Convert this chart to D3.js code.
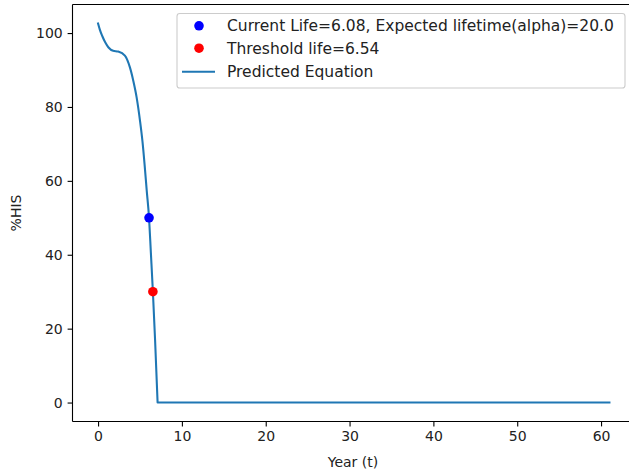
<!DOCTYPE html>
<html>
<head>
<meta charset="utf-8">
<script src="https://cdn.jsdelivr.net/npm/d3@7"></script>
<style>
  html, body { margin: 0; padding: 0; background: #fff; }
  svg { display: block; font-family: "DejaVu Sans", sans-serif; }
</style>
</head>
<body>
<svg id="chart" width="629" height="474"></svg>
<script>
// ---- data ----
const curveT = [0, 0.2, 0.5, 0.85, 1.25, 1.8, 2.4, 3.2, 3.8, 4.2, 4.6, 5.0, 5.3, 5.55, 5.8, 6.08, 6.3, 6.54, 6.8, 7.1];
const curveV = [102.6, 101.0, 99.2, 97.5, 96.1, 95.2, 95.0, 93.9, 90.7, 87.1, 82.6, 76.3, 70.6, 64.4, 57.5, 50.0, 40.5, 30.0, 17.0, 0];
const flatT = [7.1, 61];
const flatV = [0, 0];
const currentPoint = [6.08, 50];
const thresholdPoint = [6.54, 30];
const xTicks = [0, 10, 20, 30, 40, 50, 60];
const yTicks = [0, 20, 40, 60, 80, 100];
const legendLabels = ["Current Life=6.08, Expected lifetime(alpha)=20.0", "Threshold life=6.54", "Predicted Equation"];
const xLabel = "Year (t)";
const yLabel = "%HIS";

// ---- layout ----
const svg = d3.select("#chart");
const pL = 72.5, pR = 635, pT = 4.5, pB = 421.5;
const xs = d3.scaleLinear().domain([-3.05, 64.05]).range([pL, pR]);
const ys = d3.scaleLinear().domain([-5.13, 107.73]).range([pB, pT]);
const blue = "#1f77b4";
const fs = 14;
const lfs = 15.5;

// line
const lineGen = d3.line().x(d => xs(d[0])).y(d => ys(d[1]));
const curvePts = curveT.map((t, i) => [t, curveV[i]]);
const flatPts = flatT.map((t, i) => [t, flatV[i]]);
const p1 = d3.line().x(d => xs(d[0])).y(d => ys(d[1])).curve(d3.curveMonotoneX)(curvePts);
const p2 = lineGen(flatPts);
svg.append("path").attr("d", p1 + "L" + p2.slice(1))
  .attr("fill", "none").attr("stroke", blue).attr("stroke-width", 2.08)
  .attr("stroke-linejoin", "round").attr("stroke-linecap", "square");

// scatter points
svg.append("circle").attr("cx", xs(currentPoint[0])).attr("cy", ys(currentPoint[1])).attr("r", 4.8).attr("fill", "#0000ff");
svg.append("circle").attr("cx", xs(thresholdPoint[0])).attr("cy", ys(thresholdPoint[1])).attr("r", 4.8).attr("fill", "#ff0000");

// axes frame (left, top, bottom)
const frame = svg.append("g").attr("stroke", "#000").attr("stroke-width", 1.1).attr("fill", "none");
frame.append("line").attr("x1", pL).attr("x2", pL).attr("y1", pT).attr("y2", pB);
frame.append("line").attr("x1", pL).attr("x2", pR).attr("y1", pT).attr("y2", pT);
frame.append("line").attr("x1", pL).attr("x2", pR).attr("y1", pB).attr("y2", pB);

// x axis
const xAxis = d3.axisBottom(xs).tickValues(xTicks).tickSizeInner(4.9).tickSizeOuter(0).tickPadding(4.9).tickFormat(d3.format("d"));
const gx = svg.append("g").attr("transform", `translate(0,${pB})`).call(xAxis);
gx.select(".domain").remove();
gx.selectAll(".tick line").attr("stroke", "#000").attr("stroke-width", 1.1);
gx.selectAll(".tick text").attr("fill", "#222").attr("font-size", fs).attr("font-family", "DejaVu Sans");

// y axis
const yAxis = d3.axisLeft(ys).tickValues(yTicks).tickSizeInner(4.9).tickSizeOuter(0).tickPadding(4.9).tickFormat(d3.format("d"));
const gy = svg.append("g").attr("transform", `translate(${pL},0)`).call(yAxis);
gy.select(".domain").remove();
gy.selectAll(".tick line").attr("stroke", "#000").attr("stroke-width", 1.1);
gy.selectAll(".tick text").attr("fill", "#222").attr("font-size", fs).attr("font-family", "DejaVu Sans");

// axis labels
svg.append("text").attr("x", 353).attr("y", 467).attr("text-anchor", "middle")
  .attr("font-size", fs).attr("fill", "#222").text(xLabel);
svg.append("text").attr("transform", `translate(21,${(pT + pB) / 2}) rotate(-90)`)
  .attr("text-anchor", "middle").attr("font-size", fs).attr("fill", "#222").text(yLabel);

// legend
const lg = svg.append("g");
lg.append("rect").attr("x", 177).attr("y", 13.5).attr("width", 448).attr("height", 74.5)
  .attr("rx", 2.8).attr("fill", "#fff").attr("fill-opacity", 0.8)
  .attr("stroke", "#cccccc").attr("stroke-width", 1.1);
const rowY = [25.8, 48.2, 71.7];
lg.append("circle").attr("cx", 199).attr("cy", rowY[0]).attr("r", 4.8).attr("fill", "#0000ff");
lg.append("circle").attr("cx", 199).attr("cy", rowY[1]).attr("r", 4.8).attr("fill", "#ff0000");
lg.append("line").attr("x1", 182).attr("x2", 215).attr("y1", rowY[2]).attr("y2", rowY[2])
  .attr("stroke", blue).attr("stroke-width", 2.08);
legendLabels.forEach((s, i) => {
  lg.append("text").attr("x", 227).attr("y", rowY[i]).attr("dy", "0.36em")
    .attr("font-size", lfs).attr("fill", "#222").text(s);
});
</script>
</body>
</html>
